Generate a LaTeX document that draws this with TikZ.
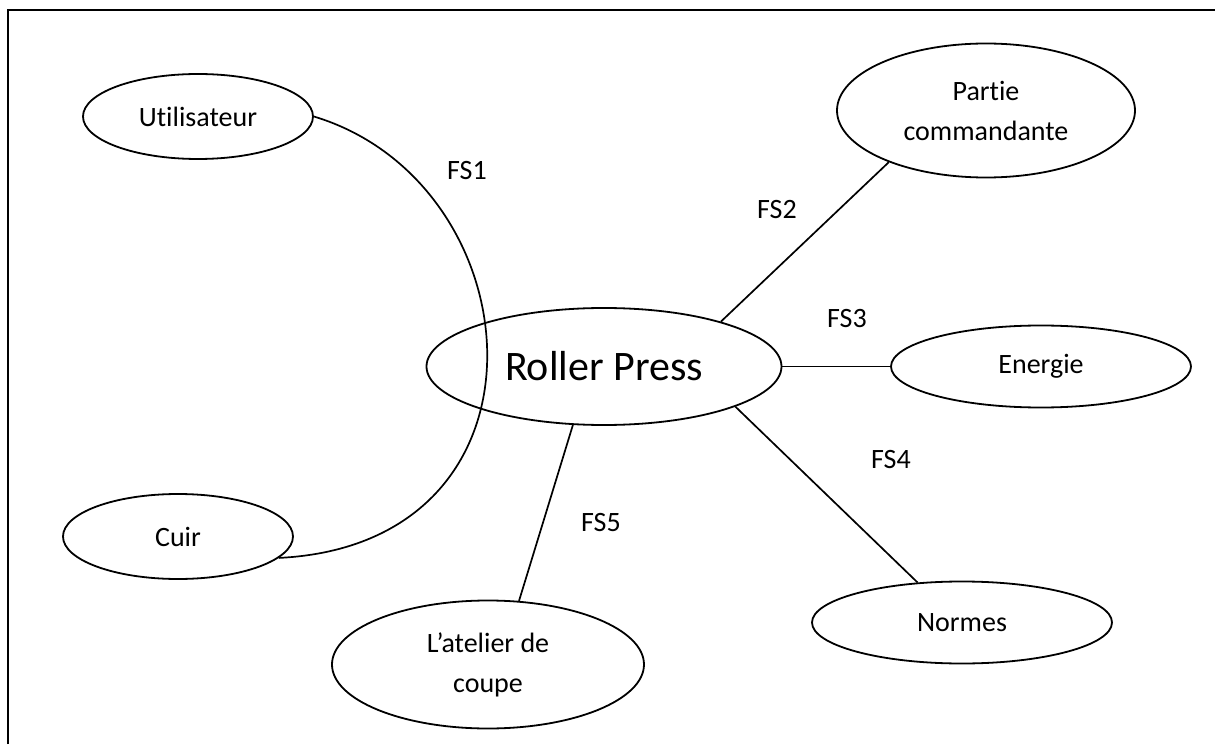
\documentclass[tikz,border=0pt]{standalone}
\usepackage{fontspec}
\setmainfont{Carlito}[Ligatures=NoCommon]
\usetikzlibrary{positioning, shapes.geometric}
\tikzset{bulle/.style={ellipse, draw, line width=1.8pt, inner sep=0pt,
  align=center, font=\fontsize{28}{40}\selectfont}}
\tikzset{petite/.style={bulle, minimum width=230pt, minimum height=85pt}}
\tikzset{large/.style={bulle, minimum width=300pt, minimum height=82pt}}
\tikzset{lien/.style={line width=1.7pt}}
\tikzset{fs/.style={font=\fontsize{28}{34}\selectfont}}

\begin{document}
\begin{tikzpicture}[x=1pt, y=1pt, on grid]
\useasboundingbox (-604,-377.5) rectangle (611,366.5);
\draw[line width=2pt] (-596,-377.5) -- (-596,356) -- (611,356);
\node[bulle, minimum width=355pt, minimum height=117pt,
  font=\fontsize{42}{50}\selectfont] (rp) at (0,0) {Roller Press};
\node[petite, above left=250pt and 406pt of rp] (util) {Utilisateur};
\node[bulle, minimum width=298pt, minimum height=134pt,
  above right=256pt and 382pt of rp] (pc) {Partie\\commandante};
\node[large, right=437pt of rp] (en) {Energie};
\node[petite, below left=170pt and 426pt of rp] (cuir) {Cuir};
\node[bulle, minimum width=312pt, minimum height=128pt,
  below left=298pt and 116pt of rp] (atel) {L’atelier de\\coupe};
\node[large, below right=256pt and 358pt of rp] (norm) {Normes};
\draw[lien] (util.east) .. controls +(222,-67) and +(287,14) .. (cuir.-12);
\draw[lien] (rp.21) -- (pc.208);
\draw[lien] (rp.east) -- (en.west);
\draw[lien] (rp.-17) -- (norm.138);
\draw[lien] (rp.242) -- (atel.64);
\node[fs, above left=196pt and 137pt of rp] (fs1) {FS1};
\node[fs, above right=157pt and 173pt of rp] (fs2) {FS2};
\node[fs, above right=48pt and 243pt of rp] (fs3) {FS3};
\node[fs, below right=93pt and 287pt of rp] (fs4) {FS4};
\node[fs, below left=156pt and 3pt of rp] (fs5) {FS5};
\end{tikzpicture}
\end{document}
